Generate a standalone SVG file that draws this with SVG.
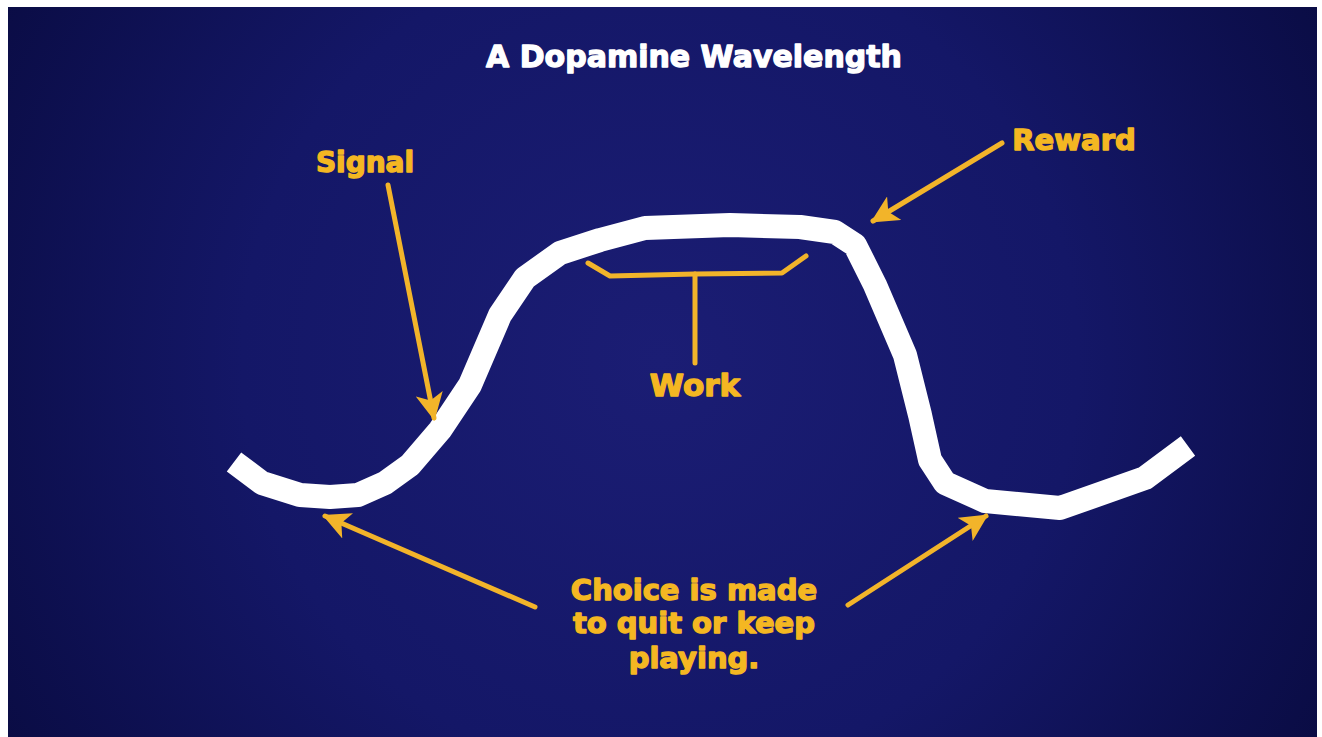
<svg xmlns="http://www.w3.org/2000/svg" width="1322" height="737" viewBox="0 0 1322 737">
  <defs>
    <radialGradient id="bg" cx="660" cy="360" r="760" gradientUnits="userSpaceOnUse">
      <stop offset="0" stop-color="#1b1d74"/>
      <stop offset="0.55" stop-color="#141767"/>
      <stop offset="1" stop-color="#0a0c44"/>
    </radialGradient>
    <marker id="head" viewBox="0 0 10 10" refX="9" refY="5" markerWidth="5.5" markerHeight="5.5" orient="auto" markerUnits="strokeWidth">
      <path d="M0,0 L10,5 L0,10 L2.5,5 Z" fill="#f2b42a"/>
    </marker>
    <style>
      .lbl { font-family: "DejaVu Sans", "Liberation Sans", sans-serif; font-weight: bold; fill: #f4b722; stroke: #f4b722; stroke-width: 1.4; stroke-linejoin: round; text-anchor: middle; }
      .title { font-family: "DejaVu Sans", "Liberation Sans", sans-serif; font-weight: bold; fill: #ffffff; stroke: #ffffff; stroke-width: 1.3; stroke-linejoin: round; text-anchor: middle; }
      .arrow { fill: none; stroke: #f2b42a; stroke-width: 5; stroke-linecap: round; marker-end: url(#head); }
      .bracket { fill: none; stroke: #f2b42a; stroke-width: 5; stroke-linecap: round; stroke-linejoin: round; }
      .wave { fill: none; stroke: #ffffff; stroke-width: 24; stroke-linejoin: round; stroke-linecap: butt; }
    </style>
  </defs>
  <rect x="0" y="0" width="1322" height="737" fill="#ffffff"/>
  <rect x="8" y="7" width="1309" height="730" fill="url(#bg)"/>

  <text class="title" x="694" y="67" font-size="30">A Dopamine Wavelength</text>

  <g id="wave">
    <polyline class="wave" points="234,462 262,483 300,495 330,497 358,495 385,483 410,465 440,430 470,385 500,315 525,278 560,253 600,240 645,228 730,225 800,227 835,232 855,245 875,285 905,355 920,415 930,460 945,483 985,501 1060,508 1145,478 1188,446"/>
  </g>

  <g id="signal">
    <text class="lbl" x="365" y="172" font-size="28">Signal</text>
  </g>
  <g id="reward">
    <text class="lbl" x="1074" y="150" font-size="29">Reward</text>
  </g>
  <g id="work">
    <polyline class="bracket" points="588,263 610,276 695,274 782,273 806,256"/>
    <line class="bracket" x1="695" y1="274" x2="695" y2="363"/>
    <text class="lbl" x="695" y="396" font-size="31">Work</text>
  </g>
  <g id="choice">
    <text class="lbl" x="694" y="600" font-size="29">Choice is made</text>
    <text class="lbl" x="694" y="633" font-size="29">to quit or keep</text>
    <text class="lbl" x="694" y="668" font-size="29">playing.</text>
  </g>

  <g id="connectors">
    <line class="arrow" x1="388" y1="185" x2="434" y2="418"/>
    <line class="arrow" x1="1002" y1="143" x2="873" y2="221"/>
    <line class="arrow" x1="535" y1="607" x2="325" y2="516"/>
    <line class="arrow" x1="848" y1="605" x2="986" y2="516"/>
  </g>
</svg>
